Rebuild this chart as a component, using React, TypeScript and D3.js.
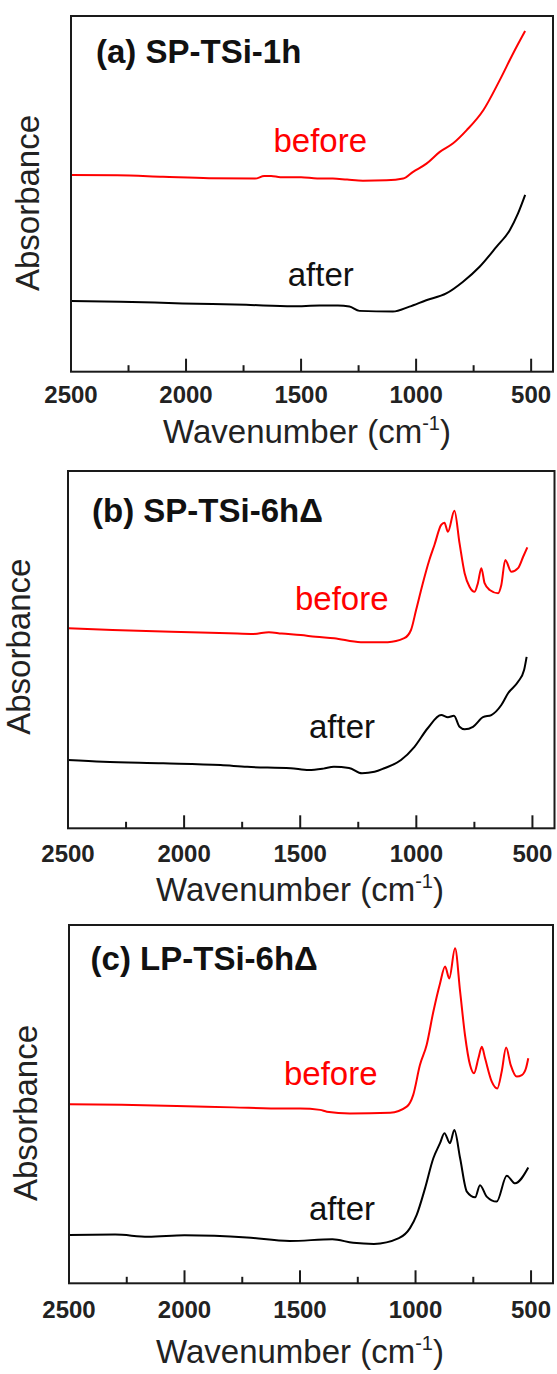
import React from "react";
import * as d3 from "d3";

type Pt = [number, number];

// Wavenumber (cm-1), absorbance (a.u., offset)
const aBefore: Pt[] = [[2500,55.3],[2300,55.2],[2100,54.8],[1900,54.4],[1700,54.3],[1660,55.0],[1630,55.0],[1590,54.7],[1500,54.7],[1430,54.3],[1362,54.3],[1300,54.0],[1231,53.7],[1129,53.8],[1056,54.3],[1013,56.2],[955,58.5],[897,61.8],[839,64.2],[780,67.9],[708,73.5],[637,81.9],[579,89.4],[526,95.8]];
const aAfter: Pt[] = [[2500,19.9],[2284,19.7],[2016,19.2],[1739,18.8],[1537,18.4],[1420,18.6],[1340,18.6],[1290,18.3],[1246,17.1],[1101,16.9],[1029,18.3],[956,20.1],[869,22.0],[796,25.3],[724,29.5],[651,35.1],[593,39.8],[557,44.5],[526,49.7]];
const bBefore: Pt[] = [[2500,56.0],[2308,55.5],[2055,55.0],[1808,54.6],[1700,54.4],[1635,54.9],[1580,54.5],[1498,54.1],[1433,53.6],[1354,53.2],[1239,52.1],[1123,52.1],[1052,53.2],[1023,55.5],[1001,61.1],[972,68.6],[944,75.1],[922,79.3],[893,84.9],[879,85.5],[864,83.0],[836,88.9],[814,79.8],[792,71.4],[771,67.6],[749,66.2],[735,68.6],[720,72.8],[706,68.6],[684,66.7],[648,65.8],[634,68.1],[617,75.1],[591,71.8],[562,72.8],[540,76.0],[522,78.6]];
const bAfter: Pt[] = [[2500,19.1],[2349,18.6],[2090,18.2],[1843,17.7],[1728,17.2],[1541,16.8],[1463,16.3],[1400,16.7],[1355,17.2],[1290,16.9],[1234,15.4],[1180,15.8],[1138,16.8],[1066,19.1],[1008,22.8],[951,28.0],[893,31.7],[864,31.1],[838,31.5],[814,28.4],[792,27.7],[756,28.4],[713,31.1],[677,31.7],[634,34.5],[605,37.8],[562,41.0],[536,44.3],[525,48.0]];
const cBefore: Pt[] = [[2500,50.0],[2272,49.8],[2034,49.5],[1789,49.1],[1572,48.8],[1500,48.8],[1413,48.4],[1384,47.9],[1284,47.4],[1110,47.6],[1038,49.3],[1010,52.6],[981,60.9],[952,66.5],[923,75.8],[894,83.7],[872,88.4],[854,85.1],[829,93.5],[807,81.4],[786,69.3],[764,60.9],[747,58.6],[728,62.8],[713,66.0],[699,62.8],[670,56.3],[646,54.4],[627,59.1],[608,65.8],[588,60.9],[562,57.7],[540,58.1],[522,60.0],[512,62.8]];
const cAfter: Pt[] = [[2500,13.5],[2300,13.6],[2158,13.0],[2000,13.4],[1730,12.8],[1545,11.8],[1360,12.3],[1270,11.3],[1180,11.0],[1072,12.6],[1024,15.4],[995,19.1],[959,26.5],[923,34.9],[894,39.1],[875,41.9],[851,39.1],[832,42.8],[807,34.9],[778,25.6],[742,24.0],[721,27.4],[692,24.2],[649,22.8],[605,30.0],[569,27.9],[512,32.3]];

const titles = ["(a) SP-TSi-1h", "(b) SP-TSi-6h\u0394", "(c) LP-TSi-6h\u0394"];
const majorTicks = [2500, 2000, 1500, 1000, 500];
const minorTicks = [2250, 1750, 1250, 750];
const xDomain: [number, number] = [2500, 405];
const yDomain: [number, number] = [0, 100];

const FONT = "'Liberation Sans', Arial, Helvetica, sans-serif";

const panels = [
  { left: 71, right: 553, top: 16, bottom: 371.7, title: titles[0], titleX: 96, titleY: 63,
    bx: 273.5, by: 151.7, ax: 287.7, ay: 286, absX: 39, absY: 203, tickY: 403, axTY: 443, axTX: 307,
    before: aBefore, after: aAfter },
  { left: 68, right: 554.5, top: 471, bottom: 828.3, title: titles[1], titleX: 92, titleY: 521.7,
    bx: 295, by: 610, ax: 309, ay: 738.3, absX: 30, absY: 646.7, tickY: 861.7, axTY: 901, axTX: 300,
    before: bBefore, after: bAfter },
  { left: 69, right: 553, top: 925, bottom: 1283.3, title: titles[2], titleX: 90.6, titleY: 970,
    bx: 284, by: 1085, ax: 309, ay: 1220, absX: 37, absY: 1113, tickY: 1318.3, axTY: 1363, axTX: 300,
    before: cBefore, after: cAfter },
];

function Panel({ p }: { p: typeof panels[number] }) {
  const x = d3.scaleLinear().domain(xDomain).range([p.left, p.right]);
  const y = d3.scaleLinear().domain(yDomain).range([p.bottom, p.top]);
  const line = d3
    .line<Pt>()
    .x((d) => x(d[0]))
    .y((d) => y(d[1]))
    .curve(d3.curveMonotoneX);
  return (
    <g>
      <path d={line(p.before) || ""} fill="none" stroke="#ff0000" strokeWidth={2} strokeLinejoin="round" />
      <path d={line(p.after) || ""} fill="none" stroke="#000" strokeWidth={2} strokeLinejoin="round" />
      <rect x={p.left} y={p.top} width={p.right - p.left} height={p.bottom - p.top} fill="none" stroke="#1a1a1a" strokeWidth={2} />
      {majorTicks.filter((t) => t !== 2500).map((t) => (
        <line key={"M" + t} x1={x(t)} x2={x(t)} y1={p.bottom} y2={p.bottom - 13} stroke="#1a1a1a" strokeWidth={2} />
      ))}
      {minorTicks.map((t) => (
        <line key={"m" + t} x1={x(t)} x2={x(t)} y1={p.bottom} y2={p.bottom - 6.5} stroke="#1a1a1a" strokeWidth={2} />
      ))}
      {majorTicks.map((t) => (
        <text key={"l" + t} x={x(t)} y={p.tickY} textAnchor="middle" fontFamily={FONT} fontWeight="bold" fontSize={24} fill="#222">
          {t}
        </text>
      ))}
      <text x={p.axTX} y={p.axTY} textAnchor="middle" fontFamily={FONT} fontSize={33} fill="#222">
        Wavenumber (cm
        <tspan fontSize={20} dy={-13}>-1</tspan>
        <tspan dy={13}>)</tspan>
      </text>
      <text transform={`translate(${p.absX},${p.absY}) rotate(-90)`} textAnchor="middle" fontFamily={FONT} fontSize={33} fill="#222">
        Absorbance
      </text>
      <text x={p.titleX} y={p.titleY} fontFamily={FONT} fontWeight="bold" fontSize={33} fill="#111">
        {p.title}
      </text>
      <text x={p.bx} y={p.by} fontFamily={FONT} fontSize={33} fill="#ff0000">before</text>
      <text x={p.ax} y={p.ay} fontFamily={FONT} fontSize={33} fill="#111">after</text>
    </g>
  );
}

export default function App() {
  return (
    <svg
      width={557}
      height={1374}
      viewBox="0 0 557 1374"
      style={{ position: "absolute", left: 0, top: 0, display: "block", background: "#fff" }}
    >
      <rect x={0} y={0} width={557} height={1374} fill="#fff" />
      {panels.map((p, i) => (
        <Panel key={i} p={p} />
      ))}
    </svg>
  );
}
